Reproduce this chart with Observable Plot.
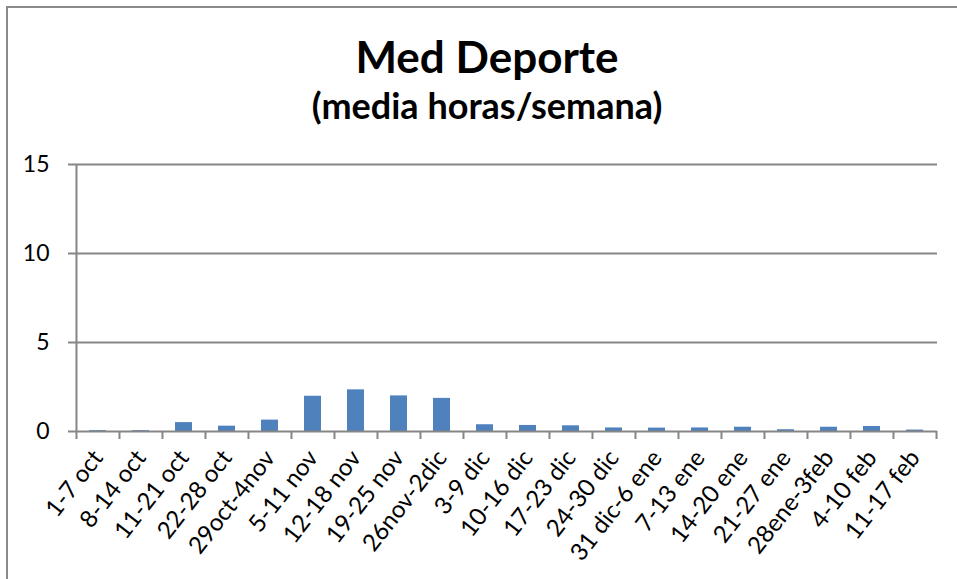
<!DOCTYPE html>
<html>
<head>
<meta charset="utf-8">
<script src="https://cdn.jsdelivr.net/npm/d3@7"></script>
<script src="https://cdn.jsdelivr.net/npm/@observablehq/plot@0.6"></script>
<style>
  html, body { margin: 0; padding: 0; background: #fff; overflow: hidden; }
  #wrap { position: relative; width: 957px; height: 579px; overflow: hidden; font-family: Lato, "Open Sans", sans-serif; }
  #frame { position: absolute; left: 6px; top: 6px; width: 1200px; height: 1200px; border-left: 2px solid #898989; border-top: 2px solid #898989; }
  .ttl { position: absolute; left: 17px; width: 940px; text-align: center; font-weight: bold; line-height: 1; color: #000; white-space: nowrap; }
  #title { top: 34px; font-size: 44px; }
  #subtitle { top: 87px; font-size: 36px; }
  #chart { position: absolute; left: 0; top: 140px; }
</style>
</head>
<body>
<div id="wrap">
  <div id="frame"></div>
  <div id="title" class="ttl">Med Deporte</div>
  <div id="subtitle" class="ttl">(media horas/semana)</div>
  <div id="chart"></div>
</div>
<script>
const categories = ["1-7 oct", "8-14 oct", "11-21 oct", "22-28 oct", "29oct-4nov", "5-11 nov", "12-18 nov", "19-25 nov", "26nov-2dic", "3-9 dic", "10-16 dic", "17-23 dic", "24-30 dic", "31 dic-6 ene", "7-13 ene", "14-20 ene", "21-27 ene", "28ene-3feb", "4-10 feb", "11-17 feb"];
const values = [0.05, 0.05, 0.5, 0.3, 0.64, 1.98, 2.34, 2.0, 1.86, 0.38, 0.34, 0.32, 0.2, 0.19, 0.2, 0.24, 0.1, 0.24, 0.28, 0.08];
const yTicks = [0, 5, 10, 15];
const gridValues = [5, 10, 15];

const data = categories.map((c, i) => ({cat: c, value: values[i]}));

const W = 957, H = 439, ML = 76, MR = 20, MT = 24, MB = 148;
const pInner = 0.6, pOuter = 0.3;
const step = (W - ML - MR) / (categories.length - pInner + 2 * pOuter);
const gray = "#868686";

const chart = Plot.plot({
  width: W,
  height: H,
  marginLeft: ML,
  marginRight: MR,
  marginTop: MT,
  marginBottom: MB,
  style: {fontFamily: "Lato, 'Open Sans', sans-serif", fontSize: "20px", color: "#000", background: "transparent"},
  x: {domain: categories, type: "band", paddingInner: pInner, paddingOuter: pOuter, label: null},
  y: {domain: [0, 15], label: null},
  marks: [
    Plot.ruleY(gridValues, {stroke: gray, strokeWidth: 2}),
    Plot.ruleX([categories[0]], {dx: -step / 2, stroke: gray, strokeWidth: 2}),
    Plot.axisY({ticks: yTicks, tickSize: 8, tickPadding: 19, stroke: gray, strokeWidth: 2, fontSize: 23, label: null, tickFormat: d => String(d)}),
    Plot.barY(data, {x: "cat", y: "value", fill: "#4F81BD"}),
    Plot.ruleY([0], {stroke: gray, strokeWidth: 2}),
    Plot.axisX({tickSize: 8, dx: -step / 2, stroke: gray, strokeWidth: 2, text: null, label: null}),
    Plot.axisX({ticks: [categories[categories.length - 1]], tickSize: 8, dx: step / 2, stroke: gray, strokeWidth: 2, text: null, label: null}),
    Plot.axisX({tickSize: 0, tickRotate: -52, tickPadding: 22, fontSize: 24, label: null})
  ]
});
document.getElementById("chart").appendChild(chart);
</script>
</body>
</html>
